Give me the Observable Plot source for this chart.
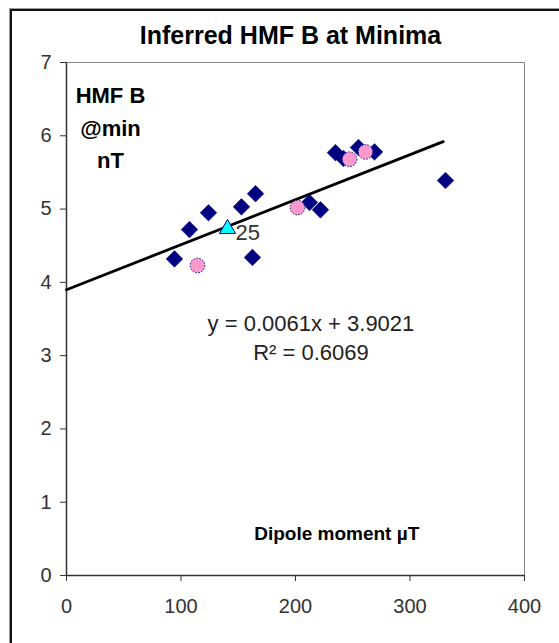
<!DOCTYPE html>
<html>
<head>
<meta charset="utf-8">
<script src="https://cdn.jsdelivr.net/npm/d3@7"></script>
<script src="https://cdn.jsdelivr.net/npm/@observablehq/plot@0.6"></script>
<style>
  html, body { margin: 0; padding: 0; background: #fff; overflow: hidden; }
  #wrap { position: relative; width: 559px; height: 643px; overflow: hidden; }
  #frame { position: absolute; left: 10px; top: 9px; width: 600px; height: 700px;
           border-left: 2px solid #111; border-top: 2px solid #111;
           box-shadow: -1px -1px 0 #999; }
  #chart { position: absolute; left: 0; top: 0; }
</style>
</head>
<body>
<div id="wrap"><div id="frame"></div><div id="chart"></div></div>
<script>
// Series 1: navy diamonds
const diamondX = [94.3, 107.4, 124.0, 152.8, 165.1, 162.4, 212.2, 221.8, 234.9, 241.9, 255.0, 269.0, 331.0];
const diamondY = [4.32, 4.72, 4.95, 5.03, 5.21, 4.34, 5.09, 4.99, 5.77, 5.69, 5.84, 5.78, 5.39];
// Series 2: pink circles
const pinkX = [114.4, 201.7, 247.2, 261.1];
const pinkY = [4.23, 5.02, 5.68, 5.78];
// Series 3: cyan triangle (labelled cycle 25)
const triX = [140.6];
const triY = [4.73];
const triLabel = ["25"];
// Trend line endpoints (y = 0.0061x + 3.9021)
const trendX = [0, 329];
const trendY = [3.90, 5.92];
// Ticks
const xTicks = [0, 100, 200, 300, 400];
const yTicks = [0, 1, 2, 3, 4, 5, 6, 7];

const diamonds = diamondX.map((x, i) => ({x, y: diamondY[i]}));
const pinks = pinkX.map((x, i) => ({x, y: pinkY[i]}));
const tris = triX.map((x, i) => ({x, y: triY[i], label: triLabel[i]}));
const trend = trendX.map((x, i) => ({x, y: trendY[i]}));

const font = "'Liberation Sans', Arial, sans-serif";

const chart = Plot.plot({
  width: 559,
  height: 643,
  marginLeft: 66,
  marginRight: 35,
  marginTop: 62,
  marginBottom: 68,
  style: {fontFamily: font, fontSize: "20px", color: "#333", background: "transparent"},
  x: {domain: [0, 400]},
  y: {domain: [0, 7]},
  marks: [
    Plot.ruleY([7], {stroke: "#888", strokeWidth: 1}),
    Plot.ruleX([400], {stroke: "#888", strokeWidth: 1}),
    Plot.axisX({ticks: xTicks, tickSize: 6, tickPadding: 17, tickFormat: "d", fontSize: 20, label: null, stroke: "#333", fill: "#333"}),
    Plot.axisY({ticks: yTicks, tickSize: 6, tickPadding: 9, tickFormat: "d", fontSize: 20, label: null, stroke: "#333", fill: "#333"}),
    Plot.ruleX([0], {stroke: "#333", strokeWidth: 1.5}),
    Plot.ruleY([0], {stroke: "#333", strokeWidth: 1.5}),
    Plot.line(trend, {x: "x", y: "y", stroke: "#000", strokeWidth: 2.8}),
    Plot.dot(diamonds, {x: "x", y: "y", symbol: "diamond2", r: 7.5, fill: "#000080", stroke: "#000080", strokeWidth: 0.5}),
    Plot.dot(pinks, {x: "x", y: "y", symbol: "circle", r: 7.3, fill: "#FF99CC", stroke: "#000080", strokeWidth: 1, strokeDasharray: "1.5,1.5"}),
    Plot.dot(tris, {x: "x", y: "y", symbol: "triangle", r: 6, fill: "#00FFFF", stroke: "#000080", strokeWidth: 1}),
    Plot.text(tris, {x: "x", y: "y", text: "label", dx: 8, dy: 4.5, textAnchor: "start", fontSize: 22, fill: "#333"}),
    Plot.text(["Inferred HMF B at Minima"], {frameAnchor: "top", lineAnchor: "middle", dy: -27, dx: -5, fontSize: 25, fontWeight: "bold", fill: "#000"}),
    Plot.text(["HMF B"], {x: 38.4, y: 6.54, fontSize: 22, fontWeight: "bold", fill: "#000"}),
    Plot.text(["@min"], {x: 38.4, y: 6.09, fontSize: 22, fontWeight: "bold", fill: "#000"}),
    Plot.text(["nT"], {x: 38.4, y: 5.66, fontSize: 22, fontWeight: "bold", fill: "#000"}),
    Plot.text(["Dipole moment µT"], {x: 236, y: 0.565, fontSize: 19, fontWeight: "bold", fill: "#000"}),
    Plot.text(["y = 0.0061x + 3.9021"], {x: 213.5, y: 3.43, fontSize: 22, fill: "#222"}),
    Plot.text(["R² = 0.6069"], {x: 213.5, y: 3.03, fontSize: 22, fill: "#222"})
  ]
});
document.getElementById("chart").append(chart);
</script>
</body>
</html>
